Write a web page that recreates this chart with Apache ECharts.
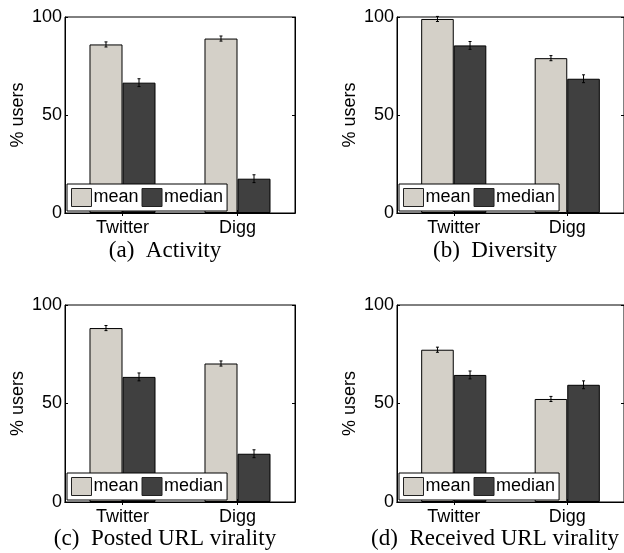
<!DOCTYPE html>
<html>
<head>
<meta charset="utf-8">
<script src="https://cdn.jsdelivr.net/npm/echarts@6/dist/echarts.min.js"></script>
<style>html,body{margin:0;padding:0;background:#fff}#c{width:624px;height:553px}</style>
</head>
<body>
<div id="c"></div>
<script>
// ---- data ----
const categories = ['Twitter', 'Digg'];
const yTicks = [0, 50, 100];
const captions = ['(a)  Activity', '(b)  Diversity', '(c)  Posted URL virality', '(d)  Received URL virality'];

const activityMean = [86, 89];
const activityMedian = [66.5, 17.5];
const diversityMean = [99, 79];
const diversityMedian = [85.5, 68.5];
const postedMean = [88.3, 70.3];
const postedMedian = [63.5, 24.5];
const receivedMean = [77.3, 52.3];
const receivedMedian = [64.5, 59.5];

const activityMeanErr = [1.3, 1.3];
const activityMedianErr = [2, 2];
const diversityMeanErr = [1.3, 1.3];
const diversityMedianErr = [2, 2];
const postedMeanErr = [1.3, 1.3];
const postedMedianErr = [2, 2];
const receivedMeanErr = [1.3, 1.3];
const receivedMedianErr = [2, 2];

const panels = [
  {mean: activityMean, median: activityMedian, meanErr: activityMeanErr, medianErr: activityMedianErr},
  {mean: diversityMean, median: diversityMedian, meanErr: diversityMeanErr, medianErr: diversityMedianErr},
  {mean: postedMean, median: postedMedian, meanErr: postedMeanErr, medianErr: postedMedianErr},
  {mean: receivedMean, median: receivedMedian, meanErr: receivedMeanErr, medianErr: receivedMedianErr}
];

// ---- layout / style ----
const SANS = '"Liberation Sans", Arial, sans-serif';
const SERIF = '"Liberation Serif", serif';
const FS = 18;
const MEAN_COLOR = '#d4d0c8';
const MEDIAN_COLOR = '#404040';
const BAR_FRAC = 0.287;
const grids = [
  {left: 65, top: 17, width: 230, height: 196},
  {left: 397, top: 17, width: 230, height: 196},
  {left: 65, top: 305, width: 230, height: 197},
  {left: 397, top: 305, width: 230, height: 197}
];
const legendPos = [
  {left: 67, top: 184}, {left: 399, top: 184},
  {left: 67, top: 473}, {left: 399, top: 473}
];
const captionPos = [[165, 251], [495, 251], [165, 539], [495, 539]];

const xAxes = [], yAxes = [], series = [], legends = [], graphics = [];
grids.forEach((g, i) => {
  g.show = true; g.borderColor = '#000'; g.borderWidth = 1; g.backgroundColor = 'transparent';
  g.containLabel = false;
  const baseX = {
    type: 'category', data: categories, gridIndex: i,
    axisLine: {show: true, lineStyle: {color: '#000', width: 1}},
    axisTick: {show: true, inside: true, length: 3, alignWithLabel: true, lineStyle: {color: '#000'}},
    splitLine: {show: false}
  };
  xAxes.push(Object.assign({}, baseX, {position: 'bottom',
    axisLabel: {color: '#000', fontFamily: SANS, fontSize: FS, margin: 6}}));
  xAxes.push(Object.assign({}, baseX, {position: 'top', axisLabel: {show: false}}));
  const baseY = {
    type: 'value', min: 0, max: 100, interval: 50, gridIndex: i,
    axisLine: {show: true, lineStyle: {color: '#000', width: 1}},
    axisTick: {show: true, inside: true, length: 3, lineStyle: {color: '#000'}},
    splitLine: {show: false}
  };
  yAxes.push(Object.assign({}, baseY, {position: 'left',
    name: '% users', nameLocation: 'middle', nameGap: 38,
    nameTextStyle: {color: '#000', fontFamily: SANS, fontSize: FS},
    axisLabel: {color: '#000', fontFamily: SANS, fontSize: FS, margin: 3,
      formatter: v => yTicks.indexOf(v) >= 0 ? String(v) : ''}}));
  yAxes.push(Object.assign({}, baseY, {position: 'right', axisLabel: {show: false}}));

  const p = panels[i];
  const xi = i * 2, yi = i * 2;
  series.push({
    name: 'mean', type: 'bar', xAxisIndex: xi, yAxisIndex: yi,
    data: p.mean, barWidth: (BAR_FRAC * 100) + '%', barGap: '0%',
    itemStyle: {color: MEAN_COLOR, borderColor: '#000', borderWidth: 1},
    emphasis: {disabled: true}, animation: false
  });
  series.push({
    name: 'median', type: 'bar', xAxisIndex: xi, yAxisIndex: yi,
    data: p.median, barWidth: (BAR_FRAC * 100) + '%', barGap: '0%',
    itemStyle: {color: MEDIAN_COLOR, borderColor: '#000', borderWidth: 1},
    emphasis: {disabled: true}, animation: false
  });
  [['mean', p.mean, p.meanErr, -1], ['median', p.median, p.medianErr, 1]].forEach(([nm, vals, errs, side]) => {
    series.push({
      type: 'custom', xAxisIndex: xi, yAxisIndex: yi, z: 5, silent: true, animation: false,
      encode: {x: 0, y: 1},
      data: vals.map((v, k) => [k, v, errs[k]]),
      renderItem: (params, api) => {
        const k = api.value(0), v = api.value(1), e = api.value(2);
        const band = api.size([1, 0])[0];
        const cx = api.coord([k, v])[0] + side * band * BAR_FRAC / 2;
        const yt = api.coord([k, v + e])[1];
        const yb = api.coord([k, v - e])[1];
        const st = {stroke: '#000', lineWidth: 1};
        return {type: 'group', children: [
          {type: 'line', shape: {x1: cx, y1: yt, x2: cx, y2: yb}, style: st},
          {type: 'line', shape: {x1: cx - 1.5, y1: yt, x2: cx + 1.5, y2: yt}, style: st},
          {type: 'line', shape: {x1: cx - 1.5, y1: yb, x2: cx + 1.5, y2: yb}, style: st}
        ]};
      }
    });
  });

  legends.push({
    data: ['mean', 'median'], left: legendPos[i].left, top: legendPos[i].top,
    orient: 'horizontal', icon: 'rect', itemWidth: 20, itemHeight: 18, itemGap: 3,
    padding: [4, 4, 4, 4], backgroundColor: '#fff', borderColor: '#000', borderWidth: 1,
    borderRadius: 0, selectedMode: false,
    itemStyle: {borderWidth: 1, borderColor: '#222'},
    textStyle: {color: '#000', fontFamily: SANS, fontSize: FS, padding: [0, 0, 0, -3]}
  });

  graphics.push({
    type: 'text', x: captionPos[i][0], y: captionPos[i][1], z: 10,
    style: {text: captions[i], font: '23px ' + SERIF, fill: '#000', align: 'center', verticalAlign: 'middle'}
  });
});

const chart = echarts.init(document.getElementById('c'), null, {renderer: 'canvas'});
chart.setOption({
  animation: false,
  grid: grids, xAxis: xAxes, yAxis: yAxes, series: series,
  legend: legends, graphic: graphics
});
</script>
</body>
</html>
